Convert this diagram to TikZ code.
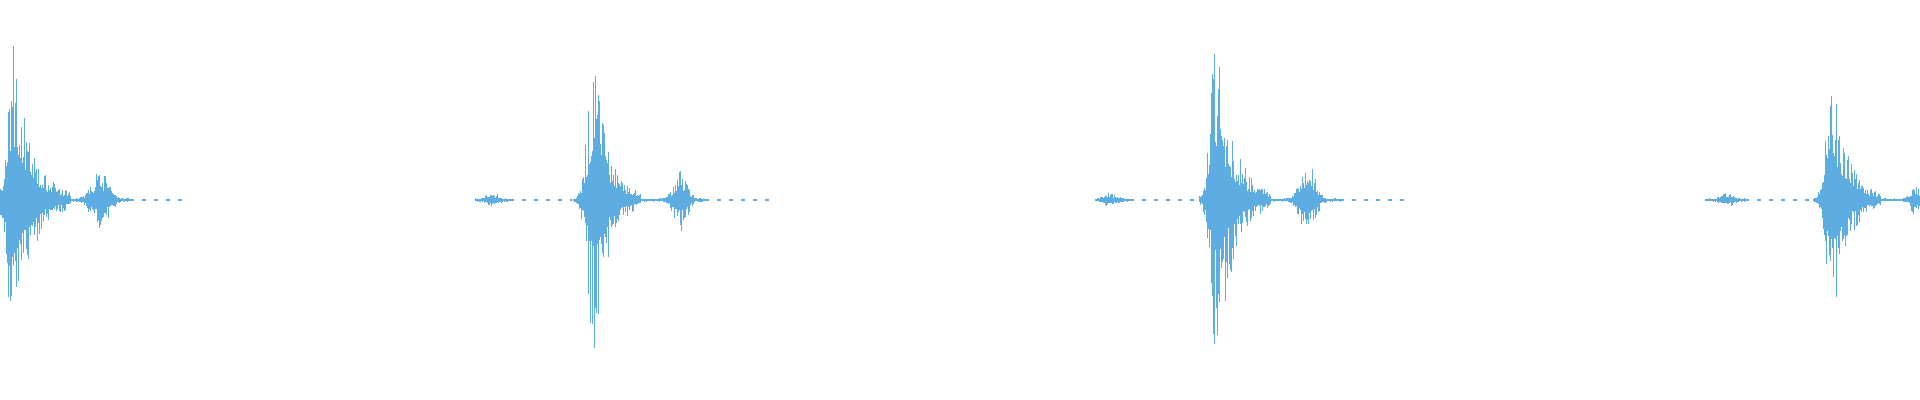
\documentclass[tikz,border=0pt]{standalone}
\usepackage{tikz}
\definecolor{wavecol}{RGB}{93,173,226}
\tikzset{wave/.style={draw=wavecol,line width=0.5pt},
	trail/.style={draw=wavecol,line width=0.6pt,dash pattern=on 2pt off 4pt}}
% spike: from, to, peak x, amplitude, decay
\newcommand\spike[5]{%
	\foreach \xx in {#1,...,#2}{%
		\pgfmathsetmacro\env{(\xx<#3)?(#4*exp(-((\xx-#3)/9)^2)):(#4*exp(-(\xx-#3)/#5))+1.5}%
		\pgfmathsetmacro\up{\env*(0.3+0.7*rnd^1.5)}%
		\pgfmathsetmacro\dn{\env*(0.3+0.7*rnd^1.5)}%
		\draw[wave] (\xx,200-\up-0.8) -- (\xx,200+\dn+0.8);
	}}
% bump: from, to, centre, amplitude, width
\newcommand\bump[5]{%
	\foreach \xx in {#1,...,#2}{%
		\pgfmathsetmacro\env{#4*exp(-((\xx-#3)/#5)^2)+1}%
		\pgfmathsetmacro\up{\env*(0.3+0.7*rnd^1.5)}%
		\pgfmathsetmacro\dn{\env*(0.3+0.7*rnd^1.5)}%
		\draw[wave] (\xx,200-\up-0.6) -- (\xx,200+\dn+0.6);
	}}
\begin{document}
\begin{tikzpicture}[x=0.5pt,y=-0.5pt]
	\pgfmathsetseed{11}
	\useasboundingbox (0,0) rectangle (1920,400);
	% first event
	\spike{0}{70}{14}{165}{17}
	\bump{70}{130}{100}{28}{12}
	\draw[trail] (130,200) -- (190,200);
	% second event
	\bump{475}{510}{492}{6}{8}
	\draw[trail] (510,200) -- (572,200);
	\spike{573}{640}{594}{150}{14}
	\bump{640}{705}{680}{30}{9}
	\draw[trail] (705,200) -- (775,200);
	% third event
	\bump{1095}{1130}{1110}{6}{8}
	\draw[trail] (1130,200) -- (1198,200);
	\spike{1199}{1270}{1217}{172}{16}
	\bump{1270}{1340}{1307}{40}{10}
	\draw[trail] (1340,200) -- (1405,200);
	% fourth event
	\bump{1705}{1745}{1727}{6}{8}
	\draw[trail] (1745,200) -- (1812,200);
	\spike{1813}{1880}{1833}{130}{14}
	\bump{1880}{1920}{1915}{15}{6}
\end{tikzpicture}
\end{document}
